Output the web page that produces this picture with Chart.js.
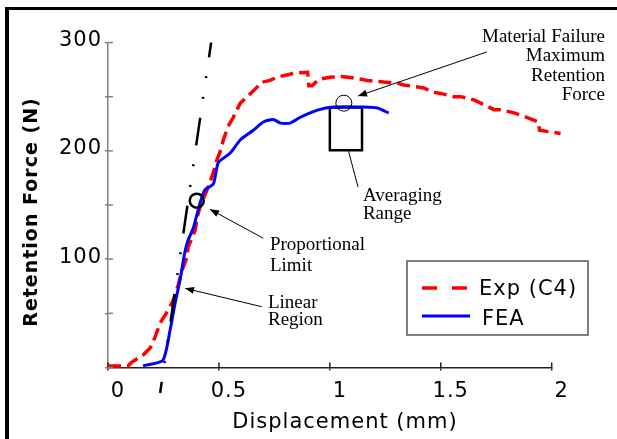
<!DOCTYPE html>
<html><head><meta charset="utf-8">
<script src="https://cdn.jsdelivr.net/npm/chart.js@4"></script>
<style>html,body{margin:0;padding:0;background:#fff}canvas{display:block}</style>
</head><body>
<canvas id="c" width="617" height="439"></canvas>
<script>
// ---- data ----
const seriesNames = ['Exp (C4)', 'FEA'];
const expX = [0.0,0.09,0.108,0.158,0.19,0.212,0.235,0.271,0.294,0.316,0.334,0.357,0.361,0.393,0.402,0.415,0.452,0.474,0.49,0.505,0.52,0.54,0.565,0.596,0.628,0.673,0.687,0.73,0.763,0.82,0.836,0.9,0.905,0.92,0.95,1.0,1.05,1.1,1.17,1.242,1.305,1.332,1.396,1.423,1.468,1.5,1.558,1.59,1.65,1.68,1.74,1.77,1.83,1.86,1.94,1.945,2.04];
const expY = [1.5,1.5,5,11.5,18,28,41,53,62,76,90,102,111,127,139,148,167,179.5,191,199,210,222,231,244,250,259,263,265,268,270.7,271.7,272.5,260,260,266,268,268.5,267.5,265,263.5,262.5,260.8,259,258,254,253,250,250,247,244,238,238,235,233,226.6,219,216];
const feaX = [0.158,0.247,0.28,0.302,0.325,0.345,0.36,0.385,0.415,0.437,0.475,0.497,0.551,0.596,0.655,0.70,0.745,0.777,0.822,0.867,0.944,1.016,1.152,1.215,1.265];
const feaY = [1.5,6.5,34.6,59,81,105,117,129,152,164,169.5,189,198,210,219,226.6,229,225.6,225.6,231,237.6,240.4,240.4,239.5,234.9];
const fitX = [0.465, 0.235];       // linear-region fit line
const fitY = [300, -23.5];
const rangeX = [1.0, 1.0, 1.145, 1.145, 1.0];   // averaging range box
const rangeY = [240, 200.5, 200.5, 240, 240];
const propLimitX = [0.4], propLimitY = [154];
const maxForceX = [1.063], maxForceY = [244];
const xTickValues = [0, 0.5, 1, 1.5, 2];
const yLabelledTicks = [100, 200, 300];
const xTitle = 'Displacement (mm)';
const yTitle = 'Retention Force (N)';

const notes = [
  {lines:['Material Failure','Maximum','Retention','Force'], at:[2.24,300.7], align:'right', lh:19.5,
   from:[1.708,291.3], to:[1.127,250.6], head:true},
  {lines:['Proportional','Limit'], at:[0.730,108.5], align:'left', lh:20.7,
   from:[0.700,119.3], to:[0.4598,146], head:true},
  {lines:['Linear','Region'], at:[0.721,55.2], align:'left', lh:17.3,
   from:[0.693,56.1], to:[0.347,73.1], head:true},
  {lines:['Averaging','Range'], at:[1.149,153.7], align:'left', lh:18,
   from:[1.127,166.6], to:[1.083,200.7], head:false}
];

const zip = (xs, ys) => xs.map((x, i) => ({x, y: ys[i]}));

Chart.defaults.font.family = 'DejaVu Sans';
Chart.defaults.color = '#000';

const decor = {
  id: 'decor',
  beforeDraw(ch) {
    const ctx = ch.ctx;
    ctx.fillStyle = '#fff';
    ctx.fillRect(0, 0, ch.width, ch.height);
    ctx.fillStyle = '#000';
    ctx.fillRect(5, 7, 4, ch.height - 7);
    ctx.fillRect(5, 7, ch.width - 5, 3);
    ctx.letterSpacing = '1px';
  },
  afterDraw(ch) {
    const ctx = ch.ctx, xs = ch.scales.x, ys = ch.scales.y, ca = ch.chartArea;
    const P = (v) => [xs.getPixelForValue(v[0]), ys.getPixelForValue(v[1])];
    ctx.save();
    // inner halves of ticks
    ctx.lineWidth = 1.5;
    ctx.strokeStyle = '#222';
    xTickValues.forEach(v => {
      const px = xs.getPixelForValue(v);
      ctx.beginPath(); ctx.moveTo(px, ca.bottom); ctx.lineTo(px, ca.bottom - 5); ctx.stroke();
    });
    ctx.strokeStyle = '#808080';
    ys.ticks.forEach(t => {
      const py = ys.getPixelForValue(t.value);
      ctx.beginPath(); ctx.moveTo(ca.left, py); ctx.lineTo(ca.left + 5, py); ctx.stroke();
    });
    // axis titles
    ctx.letterSpacing = '1px';
    ctx.fillStyle = '#000';
    ctx.font = '21px "DejaVu Sans"';
    ctx.textAlign = 'center';
    ctx.textBaseline = 'alphabetic';
    ctx.fillText(xTitle, 345, 428);
    ctx.save();
    ctx.translate(36.5, 212);
    ctx.rotate(-Math.PI / 2);
    ctx.font = 'bold 19px "DejaVu Sans"';
    ctx.fillText(yTitle, 0, 0);
    ctx.restore();
    // annotations
    ctx.letterSpacing = '0px';
    ctx.font = '19px "Liberation Serif"';
    ctx.strokeStyle = '#000';
    ctx.fillStyle = '#000';
    ctx.lineWidth = 1;
    notes.forEach(n => {
      const [tx, ty] = P(n.at);
      ctx.textAlign = n.align;
      n.lines.forEach((s, i) => ctx.fillText(s, tx, ty + i * n.lh));
      const [x1, y1] = P(n.from), [x2, y2] = P(n.to);
      ctx.beginPath(); ctx.moveTo(x1, y1); ctx.lineTo(x2, y2); ctx.stroke();
      if (n.head) {
        const a = Math.atan2(y2 - y1, x2 - x1), L = 9, W = 3.5;
        ctx.beginPath();
        ctx.moveTo(x2, y2);
        ctx.lineTo(x2 - L * Math.cos(a) + W * Math.sin(a), y2 - L * Math.sin(a) - W * Math.cos(a));
        ctx.lineTo(x2 - L * Math.cos(a) - W * Math.sin(a), y2 - L * Math.sin(a) + W * Math.cos(a));
        ctx.closePath(); ctx.fill();
      }
    });
    // legend
    const lx = 407, ly = 261, lw = 181, lh = 74;
    ctx.strokeStyle = '#7f7f7f';
    ctx.lineWidth = 2;
    ctx.strokeRect(lx, ly, lw, lh);
    ctx.letterSpacing = '1px';
    ctx.font = '21px "DejaVu Sans"';
    ctx.textAlign = 'left';
    const ds = ch.data.datasets;
    [[0, 288, 479, 295], [1, 316, 482, 325]].forEach(([i, yy, tx, tb]) => {
      const d = ds[i];
      ctx.save();
      ctx.strokeStyle = d.borderColor;
      ctx.lineWidth = d.borderWidth;
      ctx.setLineDash(i === 0 ? [15, 15] : []);
      ctx.beginPath(); ctx.moveTo(422, yy); ctx.lineTo(470, yy); ctx.stroke();
      ctx.restore();
      ctx.fillStyle = '#000';
      ctx.fillText(d.label, tx, tb);
    });
    ctx.restore();
  }
};

new Chart(document.getElementById('c'), {
  type: 'scatter',
  data: {
    datasets: [
      {label: seriesNames[0], data: zip(expX, expY), showLine: true, borderColor: '#ff0000',
       borderWidth: 3.5, borderDash: [13, 6], pointRadius: 0, tension: 0, clip: false, order: 5},
      {label: seriesNames[1], data: zip(feaX, feaY), showLine: true, borderColor: '#0000ff',
       borderWidth: 3, pointRadius: 0, tension: 0.2, clip: false, order: 4},
      {label: 'range', data: zip(rangeX, rangeY), showLine: true, borderColor: '#000',
       borderWidth: 2.5, pointRadius: 0, order: 6},
      {label: 'fit', data: zip(fitX, fitY), showLine: true, borderColor: '#000', borderWidth: 2.5,
       borderDash: [28, 19, 2, 19, 2, 19], borderDashOffset: 13, pointRadius: 0, clip: false, order: 3},
      {label: 'prop', data: zip(propLimitX, propLimitY), showLine: false, pointRadius: 7,
       pointBorderWidth: 2.5, pointBorderColor: '#000', pointBackgroundColor: 'rgba(0,0,0,0)', order: 1},
      {label: 'max', data: zip(maxForceX, maxForceY), showLine: false, pointRadius: 8,
       pointBorderWidth: 1, pointBorderColor: '#000', pointBackgroundColor: 'rgba(0,0,0,0)', order: 2}
    ]
  },
  options: {
    responsive: false,
    animation: false,
    devicePixelRatio: 1,
    layout: {padding: {left: 0, top: 42.5, right: 65.3, bottom: 0}},
    plugins: {legend: {display: false}, tooltip: {enabled: false}},
    scales: {
      x: {
        type: 'linear', min: 0, max: 2,
        afterFit(s) { s.height = 71.5; },
        afterBuildTicks(s) { s.ticks = xTickValues.map(v => ({value: v})); },
        ticks: {labelOffset: 10, padding: 8, autoSkip: false, maxRotation: 0,
                font: {size: 21}, color: '#000', callback: v => String(v)},
        grid: {drawOnChartArea: false, tickLength: 3, color: '#222', lineWidth: 1.5},
        border: {display: true, color: '#222', width: 1.5}
      },
      y: {
        type: 'linear', min: 0, max: 300,
        afterFit(s) { s.width = 108; },
        ticks: {stepSize: 50, padding: 3, labelOffset: -2, autoSkip: false,
                font: {size: 21}, color: '#000',
                callback: v => yLabelledTicks.includes(v) ? String(v) : ''},
        grid: {drawOnChartArea: false, tickLength: 3, color: '#808080', lineWidth: 1.5},
        border: {display: true, color: '#808080', width: 1.5}
      }
    }
  },
  plugins: [decor]
});
</script>
</body></html>
